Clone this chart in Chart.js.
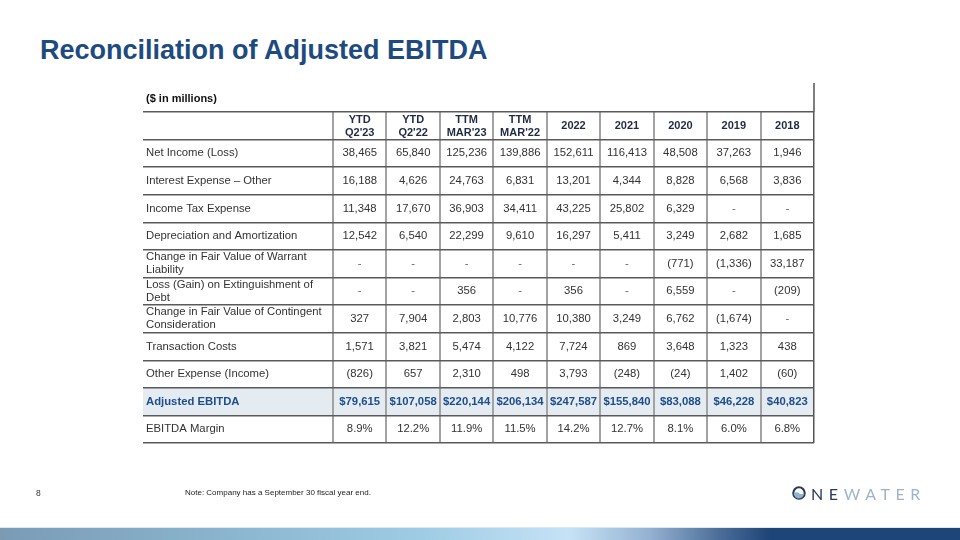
<!DOCTYPE html>
<html>
<head>
<meta charset="utf-8">
<script src="https://cdn.jsdelivr.net/npm/chart.js@4.4.0/dist/chart.umd.min.js"></script>
<style>
  html, body { margin: 0; padding: 0; background: #fff; }
  body { width: 960px; height: 540px; position: relative; overflow: hidden; font-family: "Liberation Sans", Arial, sans-serif; }
  #title { position: absolute; left: 40px; top: 37px; font-size: 27px; line-height: 27px; font-weight: bold; color: #1e4b7f; white-space: nowrap; }
  #tabla { position: absolute; left: 0; top: 0; }
  #pagina { position: absolute; left: 36px; top: 488px; font-size: 8.5px; line-height: 10px; color: #333; }
  #nota { position: absolute; left: 185px; top: 488px; font-size: 8px; line-height: 10px; color: #222; white-space: nowrap; }
  #logo { position: absolute; left: 792px; top: 484px; height: 18px; display: flex; align-items: center; font-family: Lato, "Open Sans", sans-serif; font-size: 16px; letter-spacing: 5.6px; white-space: nowrap; }
  #logo .ne { color: #2a3a55; }
  #logo .water { color: #9fb4c9; }
  #barra { position: absolute; left: 0; top: 527px; width: 960px; height: 13px;
    border-top: 1px solid #dfe6ec;
    background: linear-gradient(90deg, #7b9bb5 0px, #88b2cb 200px, #9dcce4 420px, #c6e2f6 570px, #93b1d2 650px, #4a6d98 720px, #1e4577 770px, #1e4577 960px); }
</style>
</head>
<body>
<div id="title">Reconciliation of Adjusted EBITDA</div>
<canvas id="tabla" width="960" height="540"></canvas>
<div id="pagina">8</div>
<div id="nota">Note: Company has a September 30 fiscal year end.</div>
<div id="logo"><svg width="14" height="14" viewBox="0 0 13 13" style="margin-right:5px"><circle cx="6.5" cy="6.5" r="5.3" fill="none" stroke="#2a3a55" stroke-width="2"/><path d="M1.6 7.2 C3.5 5.2 5.5 5.6 7 7 C8.3 8.1 9.8 7.6 11.4 6.6 C11 9.6 9 11.6 6.5 11.6 C4 11.6 2 9.8 1.6 7.2 Z" fill="#8fb3cc"/></svg><span class="ne">NE</span><span class="water">WATER</span></div>
<div id="barra"></div>

<script>
// Encabezados de columnas
const columnas = [["YTD", "Q2'23"], ["YTD", "Q2'22"], ["TTM", "MAR'23"], ["TTM", "MAR'22"], ["2022"], ["2021"], ["2020"], ["2019"], ["2018"]];

// Etiquetas de filas
const filas = [
  ["Net Income (Loss)"],
  ["Interest Expense \u2013 Other"],
  ["Income Tax Expense"],
  ["Depreciation and Amortization"],
  ["Change in Fair Value of Warrant", "Liability"],
  ["Loss (Gain) on Extinguishment of", "Debt"],
  ["Change in Fair Value of Contingent", "Consideration"],
  ["Transaction Costs"],
  ["Other Expense (Income)"],
  ["Adjusted EBITDA"],
  ["EBITDA Margin"]
];

// Valores ($ en millones), null = "-"
const netIncome = [38465, 65840, 125236, 139886, 152611, 116413, 48508, 37263, 1946];
const interestExpense = [16188, 4626, 24763, 6831, 13201, 4344, 8828, 6568, 3836];
const incomeTax = [11348, 17670, 36903, 34411, 43225, 25802, 6329, null, null];
const depreciacion = [12542, 6540, 22299, 9610, 16297, 5411, 3249, 2682, 1685];
const warrant = [null, null, null, null, null, null, -771, -1336, 33187];
const extinguishment = [null, null, 356, null, 356, null, 6559, null, -209];
const contingent = [327, 7904, 2803, 10776, 10380, 3249, 6762, -1674, null];
const transactionCosts = [1571, 3821, 5474, 4122, 7724, 869, 3648, 1323, 438];
const otherExpense = [-826, 657, 2310, 498, 3793, -248, -24, 1402, -60];
const adjustedEbitda = [79615, 107058, 220144, 206134, 247587, 155840, 83088, 46228, 40823];
const ebitdaMargin = [8.9, 12.2, 11.9, 11.5, 14.2, 12.7, 8.1, 6.0, 6.8];

const valores = [netIncome, interestExpense, incomeTax, depreciacion, warrant, extinguishment,
  contingent, transactionCosts, otherExpense, adjustedEbitda, ebitdaMargin];
const filaEbitda = 9;
const filaMargen = 10;

function formatear(v, fila) {
  if (v === null) return '-';
  if (fila === filaMargen) return v.toFixed(1) + '%';
  const txt = Math.abs(v).toLocaleString('en-US');
  if (fila === filaEbitda) return '$' + txt;
  return v < 0 ? '(' + txt + ')' : txt;
}

// Puntos de cada celda (centro de columna, centro de fila)
const celdas = [];
valores.forEach((serie, r) => {
  serie.forEach((v, c) => {
    celdas.push({ x: c + 0.5, y: r + 1.5, fila: r, col: c, texto: formatear(v, r) });
  });
});

const FUENTE = '"Liberation Sans", Arial, sans-serif';
const anchoEtiqueta = 3.555; // ancho de la columna de etiquetas en unidades de columna

const pluginTabla = {
  id: 'pluginTabla',
  beforeDraw(chart) {
    const ctx = chart.ctx;
    const x = chart.scales.x;
    const y = chart.scales.y;
    // fondo de la fila Adjusted EBITDA
    const y0 = y.getPixelForValue(filaEbitda + 1);
    const y1 = y.getPixelForValue(filaEbitda + 2);
    ctx.save();
    ctx.fillStyle = '#e4ebf1';
    ctx.fillRect(x.left, y0, x.right - x.left, y1 - y0);
    ctx.restore();
  },
  afterDraw(chart) {
    const ctx = chart.ctx;
    const x = chart.scales.x;
    const y = chart.scales.y;
    ctx.save();
    // borde derecho que sube hasta la fila de unidades
    ctx.strokeStyle = '#555';
    ctx.lineWidth = 1.5;
    ctx.beginPath();
    ctx.moveTo(x.right, y.top - 29);
    ctx.lineTo(x.right, y.top);
    ctx.stroke();

    ctx.textBaseline = 'middle';
    // unidades
    ctx.fillStyle = '#111';
    ctx.font = 'bold 11px ' + FUENTE;
    ctx.textAlign = 'left';
    ctx.fillText('($ in millions)', x.left + 3, y.top - 13);

    // encabezados
    ctx.fillStyle = '#1f2a44';
    ctx.textAlign = 'center';
    const yh = y.getPixelForValue(0.5);
    columnas.forEach((lineas, c) => {
      const xc = x.getPixelForValue(c + 0.5);
      if (lineas.length === 2) {
        ctx.fillText(lineas[0], xc, yh - 6);
        ctx.fillText(lineas[1], xc, yh + 7);
      } else {
        ctx.fillText(lineas[0], xc, yh);
      }
    });

    // etiquetas de filas
    ctx.textAlign = 'left';
    filas.forEach((lineas, r) => {
      const yc = y.getPixelForValue(r + 1.5);
      if (r === filaEbitda) {
        ctx.font = 'bold 11.3px ' + FUENTE;
        ctx.fillStyle = '#1f4e8c';
      } else {
        ctx.font = '11.3px ' + FUENTE;
        ctx.fillStyle = '#333';
      }
      if (lineas.length === 2) {
        ctx.fillText(lineas[0], x.left + 3, yc - 6.5);
        ctx.fillText(lineas[1], x.left + 3, yc + 6.5);
      } else {
        ctx.fillText(lineas[0], x.left + 3, yc);
      }
    });

    // valores
    ctx.textAlign = 'center';
    celdas.forEach(p => {
      if (p.fila === filaEbitda) {
        ctx.font = 'bold 11.3px ' + FUENTE;
        ctx.fillStyle = '#1f4e8c';
      } else {
        ctx.font = '11.3px ' + FUENTE;
        ctx.fillStyle = p.texto === '-' ? '#666' : '#333';
      }
      ctx.fillText(p.texto, x.getPixelForValue(p.x), y.getPixelForValue(p.y));
    });
    ctx.restore();
  }
};

new Chart(document.getElementById('tabla'), {
  type: 'scatter',
  data: {
    datasets: [{
      data: celdas,
      pointRadius: 0,
      pointHoverRadius: 0
    }]
  },
  options: {
    responsive: false,
    animation: false,
    events: [],
    layout: { padding: { left: 143, right: 146, top: 112, bottom: 97 } },
    plugins: { legend: { display: false }, tooltip: { enabled: false } },
    scales: {
      x: {
        type: 'linear',
        min: -anchoEtiqueta,
        max: columnas.length,
        afterBuildTicks: s => { s.ticks = columnas.map((c, i) => ({ value: i })).concat([{ value: columnas.length }]); },
        ticks: { display: false },
        border: { display: false },
        grid: {
          drawTicks: false,
          color: c => c.tick && c.tick.value === columnas.length ? '#555' : '#a3a3a3',
          lineWidth: c => c.tick && c.tick.value === columnas.length ? 1.5 : 2
        }
      },
      y: {
        type: 'linear',
        reverse: true,
        min: 0,
        max: filas.length + 1,
        afterBuildTicks: s => { s.ticks = [{ value: 0 }].concat(filas.map((f, i) => ({ value: i + 1 }))).concat([{ value: filas.length + 1 }]); },
        ticks: { display: false },
        border: { display: false },
        grid: { drawTicks: false, color: '#5a5a5a', lineWidth: 1.5 }
      }
    }
  },
  plugins: [pluginTabla]
});
</script>
</body>
</html>
